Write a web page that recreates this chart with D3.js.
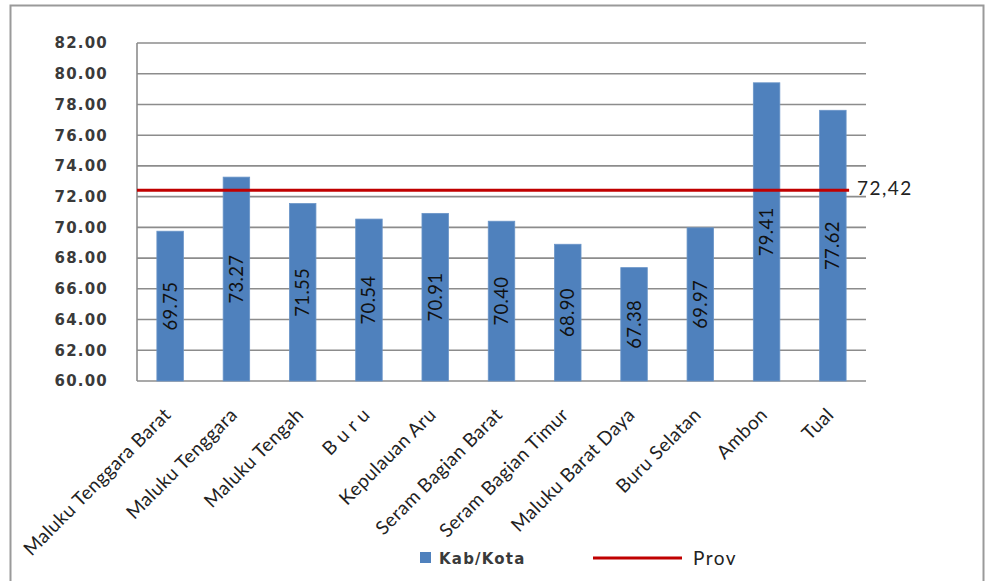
<!DOCTYPE html>
<html>
<head>
<meta charset="utf-8">
<script src="https://cdn.jsdelivr.net/npm/d3@7"></script>
<style>
  html, body { margin: 0; padding: 0; background: #fff; }
  svg { display: block; }
</style>
</head>
<body>
<svg id="chart" width="985" height="581"></svg>
<script>
// Kabupaten/kota values and the provincial average
const categories = [
  "Maluku Tenggara Barat", "Maluku Tenggara", "Maluku Tengah", "B u r u",
  "Kepulauan Aru", "Seram Bagian Barat", "Seram Bagian Timur",
  "Maluku Barat Daya", "Buru Selatan", "Ambon", "Tual"
];
const kabKota = [69.75, 73.27, 71.55, 70.54, 70.91, 70.40, 68.90, 67.38, 69.97, 79.41, 77.62];
const prov = 72.42;
const provLabel = "72,42";
const yTicks = [60, 62, 64, 66, 68, 70, 72, 74, 76, 78, 80, 82];
const legendLabels = ["Kab/Kota", "Prov"];

const svg = d3.select("#chart");
const plot = { left: 137, right: 866, top: 43, bottom: 381 };

const x = d3.scaleBand()
  .domain(categories)
  .range([plot.left, plot.right])
  .paddingInner(0.6)
  .paddingOuter(0.3);

const y = d3.scaleLinear()
  .domain([60, 82])
  .range([plot.bottom, plot.top]);

// outer frame
svg.append("rect")
  .attr("x", 10.5).attr("y", 5.5)
  .attr("width", 973).attr("height", 590)
  .attr("fill", "none").attr("stroke", "#9a9a9a").attr("stroke-width", 2);

// horizontal gridlines
svg.append("g")
  .selectAll("line")
  .data(yTicks)
  .join("line")
  .attr("x1", plot.left).attr("x2", plot.right)
  .attr("y1", d => y(d)).attr("y2", d => y(d))
  .attr("stroke", "#8c8c8c").attr("stroke-width", 1.6);

// left axis line
svg.append("line")
  .attr("x1", plot.left).attr("x2", plot.left)
  .attr("y1", plot.top).attr("y2", plot.bottom)
  .attr("stroke", "#8c8c8c").attr("stroke-width", 1.6);

// y tick labels
svg.append("g")
  .selectAll("text")
  .data(yTicks)
  .join("text")
  .attr("x", 108)
  .attr("y", d => y(d))
  .attr("dy", "0.36em")
  .attr("text-anchor", "end")
  .attr("font-family", "DejaVu Sans, Verdana, sans-serif")
  .attr("font-weight", "bold")
  .attr("font-size", 15)
  .attr("letter-spacing", 1.2)
  .attr("fill", "#3a3a3a")
  .text(d => d.toFixed(2));

// bars
svg.append("g")
  .selectAll("rect")
  .data(kabKota)
  .join("rect")
  .attr("x", (d, i) => x(categories[i]))
  .attr("y", d => y(d))
  .attr("width", x.bandwidth())
  .attr("height", d => y(60) - y(d))
  .attr("fill", "#4f81bd")
  .attr("stroke", "#6a95c8")
  .attr("stroke-width", 0.8);

// value labels inside bars
svg.append("g")
  .selectAll("text")
  .data(kabKota)
  .join("text")
  .attr("transform", (d, i) => {
    const cx = x(categories[i]) + x.bandwidth() / 2;
    const cy = (y(d) + y(60)) / 2;
    return `translate(${cx},${cy}) rotate(-90)`;
  })
  .attr("text-anchor", "middle")
  .attr("dy", "0.35em")
  .attr("font-family", "Lato, Carlito, sans-serif")
  .attr("font-size", 18.5)
  .attr("letter-spacing", 0.3)
  .attr("fill", "#111")
  .text(d => d.toFixed(2));

// provincial line
const provX2 = x(categories[categories.length - 1]) + x.bandwidth() + 3;
svg.append("line")
  .attr("x1", plot.left).attr("x2", provX2)
  .attr("y1", y(prov)).attr("y2", y(prov))
  .attr("stroke", "#c00000").attr("stroke-width", 3);

svg.append("text")
  .attr("x", 857).attr("y", y(prov) - 2)
  .attr("dy", "0.35em")
  .attr("font-family", "Lato, Carlito, sans-serif")
  .attr("font-size", 19)
  .attr("letter-spacing", 1.5)
  .attr("fill", "#222")
  .text(provLabel);

// category labels
svg.append("g")
  .selectAll("text")
  .data(categories)
  .join("text")
  .attr("transform", d => `translate(${x(d) + x.bandwidth() / 2 + 2},${plot.bottom + 35}) rotate(-45)`)
  .attr("text-anchor", "end")
  .attr("font-family", "Lato, Carlito, sans-serif")
  .attr("font-size", 19)
  .attr("letter-spacing", 0.4)
  .attr("fill", "#222")
  .text(d => d);

// legend
const legend = svg.append("g");
legend.append("rect")
  .attr("x", 420).attr("y", 552)
  .attr("width", 11).attr("height", 11)
  .attr("fill", "#4f81bd");
legend.append("text")
  .attr("x", 439).attr("y", 564)
  .attr("font-family", "DejaVu Sans, Verdana, sans-serif")
  .attr("font-weight", "bold")
  .attr("font-size", 15)
  .attr("letter-spacing", 1.2)
  .attr("fill", "#3a3a3a")
  .text(legendLabels[0]);
legend.append("line")
  .attr("x1", 593).attr("x2", 682)
  .attr("y1", 558).attr("y2", 558)
  .attr("stroke", "#c00000").attr("stroke-width", 3);
legend.append("text")
  .attr("x", 693).attr("y", 565)
  .attr("font-family", "Lato, Carlito, sans-serif")
  .attr("font-size", 19)
  .attr("letter-spacing", 1.5)
  .attr("fill", "#222")
  .text(legendLabels[1]);
</script>
</body>
</html>
